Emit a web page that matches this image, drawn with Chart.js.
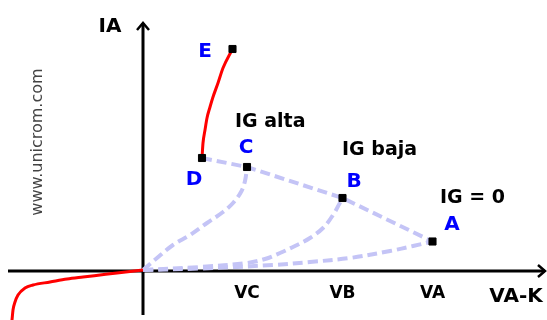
<!DOCTYPE html>
<html>
<head>
<meta charset="utf-8">
<script src="https://cdn.jsdelivr.net/npm/chart.js@4/dist/chart.umd.min.js"></script>
<style>
  html, body { margin: 0; padding: 0; background: #fff; }
  #wrap { width: 547px; height: 320px; position: relative; }
</style>
</head>
<body>
<div id="wrap"><canvas id="scr"></canvas></div>
<script>
// Curva caracteristica del SCR (tiristor)

// puntos notables
const pointNames = ['A', 'B', 'C', 'D', 'E'];
const pointV = [289.5, 199.5, 104, 59, 89.5];
const pointI = [29.5, 73, 104, 113, 222];

// tramo de conduccion D -> E
const onV = [59, 60, 62, 64, 67, 70, 75, 80, 89.5];
const onI = [113, 128, 141, 153, 164, 174, 188, 203, 222];

// zona inversa
const revV = [-132, -131, -130, -128, -125, -118, -110, -93, -76, -60, -43, -26, 0];
const revI = [-56, -49, -39, -31, -24, -17, -14, -11, -8, -6, -4, -2, 1];

// curvas de bloqueo para cada IG (discontinuas)
const igAltaV = [0, 14, 30, 47, 64, 80, 90, 98, 102, 104];
const igAltaI = [1, 13, 26, 36, 48, 59, 68, 79, 90, 104];
const igBajaV = [0, 57, 104, 122, 137, 152, 167, 180, 190, 199.5];
const igBajaI = [1, 4, 8, 12, 18, 25, 33, 43, 56, 73];
const igCeroV = [0, 57, 130, 167, 207, 247, 270, 289.5];
const igCeroI = [1, 2.5, 6, 9, 13, 20, 25, 29.5];

// linea de disparo D - C - B - A
const triggerV = [59, 104, 199.5, 289.5];
const triggerI = [113, 104, 73, 29.5];

// etiquetas del eje horizontal
const tickLabels = ['VC', 'VB', 'VA'];
const tickV = [pointV[2], pointV[1], pointV[0]];

const zip = (xs, ys) => xs.map((x, i) => ({ x: x, y: ys[i] }));

const dashed = {
  borderColor: '#c4c4f6',
  borderWidth: 4,
  borderDash: [10, 5],
  pointRadius: 0,
  showLine: true,
  tension: 0.35
};

const texts = [
  { t: 'IA', x: -33, y: 239, font: 'bold 20px "DejaVu Sans"', color: '#000', align: 'center' },
  { t: 'E', x: 62, y: 214, font: 'bold 20px "DejaVu Sans"', color: '#0000ff', align: 'center' },
  { t: 'D', x: 51, y: 86, font: 'bold 20px "DejaVu Sans"', color: '#0000ff', align: 'center' },
  { t: 'C', x: 103, y: 118, font: 'bold 20px "DejaVu Sans"', color: '#0000ff', align: 'center' },
  { t: 'B', x: 211, y: 84, font: 'bold 20px "DejaVu Sans"', color: '#0000ff', align: 'center' },
  { t: 'A', x: 309, y: 41, font: 'bold 20px "DejaVu Sans"', color: '#0000ff', align: 'center' },
  { t: 'IG alta', x: 92, y: 144, font: 'bold 19px "DejaVu Sans"', color: '#000', align: 'left' },
  { t: 'IG baja', x: 199, y: 116, font: 'bold 19px "DejaVu Sans"', color: '#000', align: 'left' },
  { t: 'IG = 0', x: 297, y: 68, font: 'bold 19px "DejaVu Sans"', color: '#000', align: 'left' },
  { t: 'VA-K', x: 373, y: -31, font: 'bold 20px "DejaVu Sans"', color: '#000', align: 'center' }
];

const axesPlugin = {
  id: 'ejes',
  beforeDatasetsDraw(chart) {
    const { ctx, scales: { x, y } } = chart;
    const x0 = x.getPixelForValue(0), y0 = y.getPixelForValue(0);
    const xL = x.getPixelForValue(-135), xR = x.getPixelForValue(402);
    const yT = y.getPixelForValue(248), yB = y.getPixelForValue(-44);
    ctx.save();
    ctx.strokeStyle = '#000';
    ctx.lineWidth = 3;
    ctx.beginPath();
    ctx.moveTo(xL, y0); ctx.lineTo(xR, y0);
    ctx.moveTo(x0, yB); ctx.lineTo(x0, yT);
    ctx.stroke();
    // flechas
    ctx.lineWidth = 2.5;
    ctx.beginPath();
    ctx.moveTo(x0 - 6, yT + 7); ctx.lineTo(x0, yT); ctx.lineTo(x0 + 6, yT + 7);
    ctx.moveTo(xR - 7, y0 - 6); ctx.lineTo(xR, y0); ctx.lineTo(xR - 7, y0 + 6);
    ctx.stroke();
    ctx.restore();
  },
  afterDatasetsDraw(chart) {
    const { ctx, scales: { x, y } } = chart;
    ctx.save();
    ctx.textBaseline = 'alphabetic';
    texts.forEach(o => {
      ctx.font = o.font;
      ctx.fillStyle = o.color;
      ctx.textAlign = o.align;
      ctx.fillText(o.t, x.getPixelForValue(o.x), y.getPixelForValue(o.y));
    });
    ctx.font = 'bold 17px "DejaVu Sans"';
    ctx.fillStyle = '#000';
    ctx.textAlign = 'center';
    tickLabels.forEach((t, i) => {
      ctx.fillText(t, x.getPixelForValue(tickV[i]), y.getPixelForValue(-27));
    });
    // marca de agua vertical
    ctx.translate(x.getPixelForValue(-105.5), y.getPixelForValue(129));
    ctx.rotate(-Math.PI / 2);
    ctx.font = '16px "DejaVu Sans"';
    ctx.fillStyle = '#444';
    ctx.textBaseline = 'middle';
    ctx.fillText('www.unicrom.com', 0, 0);
    ctx.restore();
  }
};

new Chart(document.getElementById('scr'), {
  type: 'scatter',
  data: {
    datasets: [
      {
        label: 'puntos',
        data: zip(pointV, pointI),
        pointStyle: 'rect',
        pointRadius: 5,
        pointBackgroundColor: '#000',
        pointBorderColor: '#000',
        pointBorderWidth: 1,
        showLine: false
      },
      {
        label: 'conduccion',
        data: zip(onV, onI),
        borderColor: '#ff0000',
        borderWidth: 3,
        pointRadius: 0,
        showLine: true,
        cubicInterpolationMode: 'monotone'
      },
      {
        label: 'inversa',
        data: zip(revV, revI),
        borderColor: '#ff0000',
        borderWidth: 3,
        pointRadius: 0,
        showLine: true,
        cubicInterpolationMode: 'monotone'
      },
      Object.assign({ label: 'disparo', data: zip(triggerV, triggerI) }, dashed, { tension: 0 }),
      Object.assign({ label: 'IG alta', data: zip(igAltaV, igAltaI) }, dashed),
      Object.assign({ label: 'IG baja', data: zip(igBajaV, igBajaI) }, dashed),
      Object.assign({ label: 'IG = 0', data: zip(igCeroV, igCeroI) }, dashed)
    ]
  },
  options: {
    responsive: true,
    maintainAspectRatio: false,
    animation: false,
    layout: { padding: 0, autoPadding: false },
    plugins: {
      legend: { display: false },
      tooltip: { enabled: false }
    },
    scales: {
      x: { type: 'linear', min: -143, max: 404, display: false },
      y: { type: 'linear', min: -49, max: 271, display: false }
    }
  },
  plugins: [axesPlugin]
});
</script>
</body>
</html>
